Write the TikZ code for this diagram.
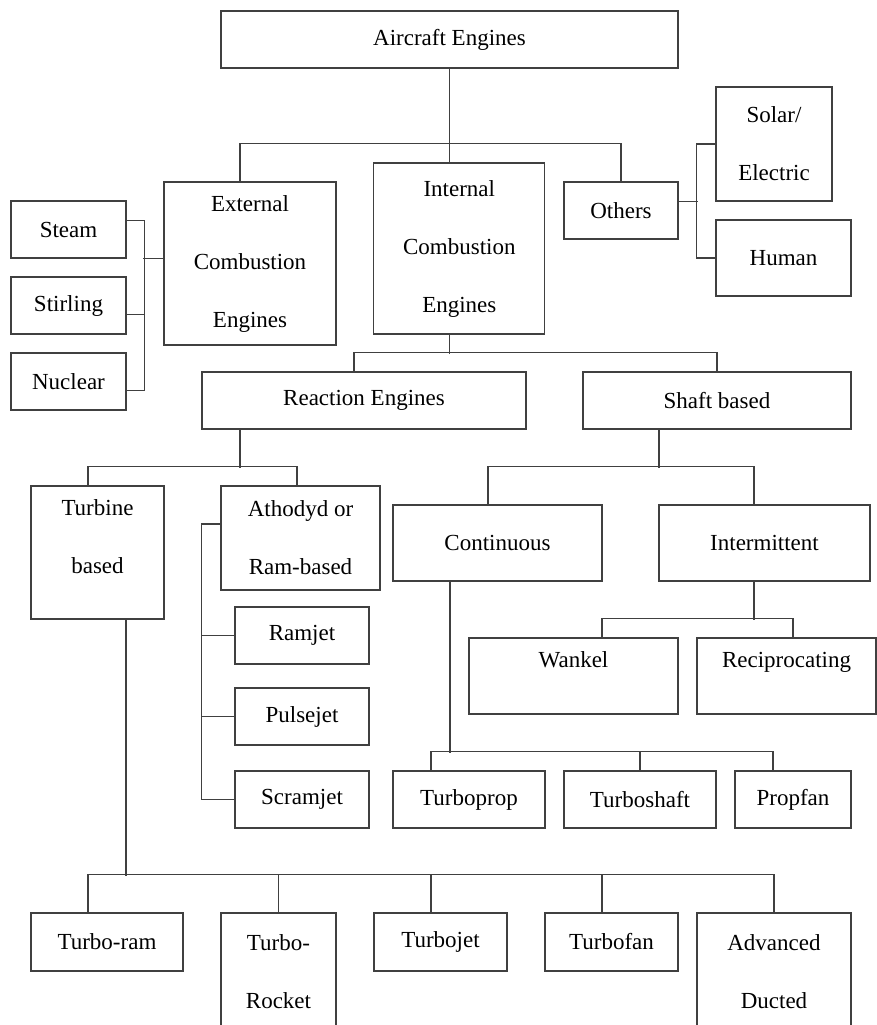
\documentclass[tikz,border=0pt]{standalone}
\usepackage{fontspec}
\setmainfont{Liberation Serif}
\usetikzlibrary{positioning}
\tikzset{
  every picture/.style={font=\fontsize{23}{58}\selectfont},
  box/.style={draw=black!75,line width=1.3pt,inner sep=0pt,align=center},
  link/.style={draw=black!75,line width=1.3pt},
}

\begin{document}
\begin{tikzpicture}[x=1pt,y=-1pt]
  \fill[white] (0,0) rectangle (877,1025);
  \useasboundingbox (0,0) rectangle (877,1025);
  % top levels
  \node[box,minimum width=457pt,minimum height=57pt] (air) at (449.5,39.5) {Aircraft Engines};
  \node[box,minimum width=172pt,minimum height=163pt] (ext) at (250,263.5) {External\\Combustion\\Engines};
  \node[box,minimum width=171pt,minimum height=171pt] (ice) at (459.3,248.5) {Internal\\Combustion\\Engines};
  \node[box,minimum width=114pt,minimum height=57pt] (oth) at (621,210.5) {Others};
  \node[box,minimum width=116pt,minimum height=114pt] (sol) at (774,144) {Solar/\\Electric};
  \node[box,minimum width=135pt,minimum height=76pt] (hum) at (783.5,258) {Human};
  \node[box,minimum width=115pt,minimum height=57pt] (steam) at (68.5,229.5) {Steam};
  \node[box,minimum width=115pt,minimum height=57pt] (stir) at (68.5,305.5) {Stirling};
  \node[box,minimum width=115pt,minimum height=57pt] (nuc) at (68.5,381.5) {Nuclear};
  % internal combustion
  \node[box,minimum width=324pt,minimum height=57pt] (rea) at (364,400.5) {Reaction Engines};
  \node[box,minimum width=268pt,minimum height=57pt] (sha) at (717,400.5) {Shaft based};
  \node[box,minimum width=133pt,minimum height=133pt,text depth=32pt] (tur) at (97.5,552.5) {Turbine\\based};
  \node[box,minimum width=159pt,minimum height=104pt] (ath) at (300.5,538) {Athodyd or\\Ram-based};
  \node[box,minimum width=209pt,minimum height=76pt] (con) at (497.5,543) {Continuous};
  \node[box,minimum width=211pt,minimum height=76pt] (itm) at (764.5,543) {Intermittent};
  \node[box,minimum width=209pt,minimum height=76pt,text depth=33pt] (wan) at (573.5,676) {Wankel};
  \node[box,minimum width=179pt,minimum height=76pt,text depth=33pt] (rec) at (786.5,676) {Reciprocating};
  \node[box,minimum width=134pt,minimum height=57pt] (ram) at (302,635.5) {Ramjet};
  \node[box,minimum width=134pt,minimum height=57pt] (pul) at (302,716.5) {Pulsejet};
  \node[box,minimum width=134pt,minimum height=57pt] (scr) at (302,799.5) {Scramjet};
  \node[box,minimum width=152pt,minimum height=57pt] (tprop) at (469,799.5) {Turboprop};
  \node[box,minimum width=152pt,minimum height=57pt] (tshaft) at (640,799.5) {Turboshaft};
  \node[box,minimum width=116pt,minimum height=57pt] (pfan) at (793,799.5) {Propfan};
  % turbine based
  \node[box,minimum width=152pt,minimum height=58pt] (tram) at (107,942) {Turbo-ram};
  \node[box,minimum width=115pt,minimum height=117pt] (trock) at (278.5,971.5) {Turbo-\\Rocket};
  \node[box,minimum width=133pt,minimum height=58pt] (tjet) at (440.5,942) {Turbojet};
  \node[box,minimum width=133pt,minimum height=58pt] (tfan) at (611.5,942) {Turbofan};
  \node[box,minimum width=154pt,minimum height=117pt] (adv) at (774,971.5) {Advanced\\Ducted};
  % connectors
  \draw[link] (air.south) -- (air.south |- ice.north);
  \draw[link] ([xshift=-10pt]ext.north) -- ++(0,-38) -| (oth.north);
  \draw[link] ([yshift=9pt]oth.east) -- ++(19,0);
  \draw[link] (sol.west) -- ++(-19,0) |- (hum.west);
  \draw[link] ([yshift=9pt]steam.east) -- ++(18,0) |- ([yshift=-9pt]nuc.east);
  \draw[link] ([yshift=-9pt]stir.east) -- ++(18,0);
  \draw[link] ([yshift=5pt]ext.west) -- ++(-20,0);
  \draw[link] (air.south |- ice.south) -- ++(0,19);
  \draw[link] ([xshift=-10pt]rea.north) -- ++(0,-19) -| (sha.north);
  \draw[link] ([xshift=-124pt]rea.south) -- ++(0,38);
  \draw[link] ([xshift=-9.5pt]tur.north) -- ++(0,-19) -| ([xshift=-3.5pt]ath.north);
  \draw[link] ([xshift=-58pt]sha.south) -- ++(0,38);
  \draw[link] ([xshift=-9.5pt]con.north) -- ++(0,-38) -| ([xshift=-10.5pt]itm.north);
  \draw[link] ([xshift=-10.5pt]itm.south) -- ++(0,38);
  \draw[link] ([xshift=28.5pt]wan.north) -- ++(0,-19) -| ([xshift=6.5pt]rec.north);
  \draw[link] ([yshift=14pt]ath.west) -- ++(-19,0) |- (scr.west);
  \draw[link] (ram.west) -- ++(-33,0);
  \draw[link] (pul.west) -- ++(-33,0);
  \draw[link] ([xshift=-47.5pt]con.south) -- ++(0,171);
  \draw[link] ([xshift=-38pt]tprop.north) -- ++(0,-19) -| ([xshift=-20pt]pfan.north);
  \draw[link] (tshaft.north) -- ++(0,-19);
  \draw[link] ([xshift=28.5pt]tur.south) -- ++(0,256);
  \draw[link] ([xshift=-19pt]tram.north) -- ++(0,-38) -| (adv.north);
  \draw[link] (trock.north) -- ++(0,-38);
  \draw[link] ([xshift=-9.5pt]tjet.north) -- ++(0,-38);
  \draw[link] ([xshift=-9.5pt]tfan.north) -- ++(0,-38);
\end{tikzpicture}
\end{document}
